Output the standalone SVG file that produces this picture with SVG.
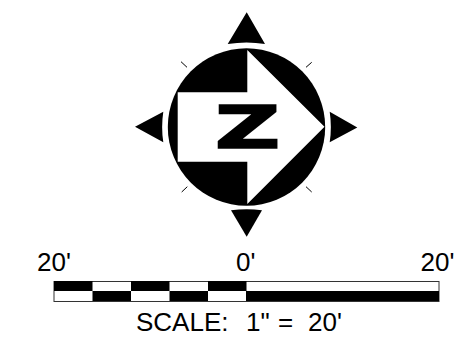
<svg xmlns="http://www.w3.org/2000/svg" width="471" height="343" viewBox="0 0 471 343">
<style>
.k{fill:#000}
.w{fill:#fff}
.t{font-family:"Liberation Sans",Arial,sans-serif;font-size:26px;fill:#000;white-space:pre}
.z{font-family:"DejaVu Sans",sans-serif;font-weight:bold;font-size:58px;fill:#000;stroke:#000;stroke-width:1.7}
.tick{stroke:#000;stroke-width:1;fill:none}
</style>
<rect width="471" height="343" fill="#fff"/>
<g id="compass">
<circle class="k" cx="246.5" cy="127" r="78.7"/>
<polygon class="w" points="247.3,50 324.5,126.7 247.3,204 247.3,161.7 177.7,161.7 177.7,92.3 247.3,92.3"/>
<text class="z" transform="translate(215,147.800) scale(1.55,1)">Z</text>
<path class="k" d="M246.7 12.3L265 44Q246.7 41 227.7 44Z"/>
<path class="k" d="M246.7 236.7L262 210.3Q246.7 208 231 210.3Z"/>
<path class="k" d="M135 126.7L163.3 111.7Q161 127 163.3 142.3Z"/>
<path class="k" d="M357.3 127.500L329.7 111.7Q332 127 329.7 142.3Z"/>
<path class="tick" d="M181 61.7L187 67.3M311.7 62.3L306 67.3M181.7 192L187.3 186.7M306 186.7L311.7 192"/>
</g>
<g id="scale-bar">
<rect x="54" y="281.500" width="385" height="20" fill="#fff" stroke="#333" stroke-width="1"/>
<path class="k" d="M54 281h38.500v10H54zM131 281h38.500v10H131zM208 281h38.500v10H208zM92.500 291H131v10H92.500zM169.500 291H208v10h-38.500zM246 291h193v10H246z"/>
<text class="t" x="37" y="271">20'</text>
<text class="t" x="236" y="271">0'</text>
<text class="t" x="420.500" y="271">20'</text>
<text class="t" x="136" y="330.500">SCALE:  <tspan x="246">1" </tspan><tspan x="278">=  </tspan><tspan x="308">20'</tspan></text>
</g>
</svg>
